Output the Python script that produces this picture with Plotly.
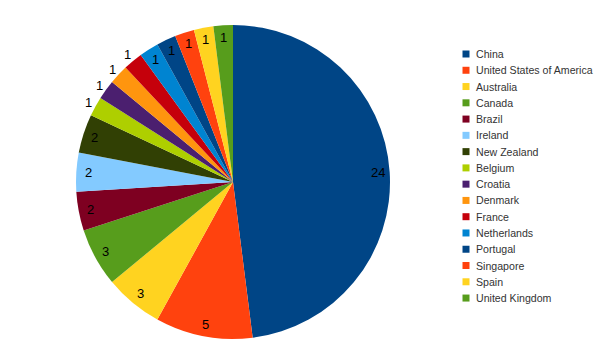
import math
import plotly.graph_objects as go

# ---- data ----
countries = ["China", "United States of America", "Australia", "Canada", "Brazil",
             "Ireland", "New Zealand", "Belgium", "Croatia", "Denmark", "France",
             "Netherlands", "Portugal", "Singapore", "Spain", "United Kingdom"]
counts = [24, 5, 3, 3, 2, 2, 2, 1, 1, 1, 1, 1, 1, 1, 1, 1]

# ---- style ----
colors = ["#004586", "#ff420e", "#ffd320", "#579d1c", "#7e0021", "#83caff",
          "#314004", "#aecf00", "#4b1f6f", "#ff950e", "#c5000b", "#0084d1",
          "#004586", "#ff420e", "#ffd320", "#579d1c"]
label_outside = [False, False, False, False, False, False, False,
                 True, True, True, True, False, False, False, False, False]

W, H = 605, 352
CX, CY, R = 233, 182, 157
FONT = "Liberation Sans, Arial, sans-serif"

fig = go.Figure()
fig.add_trace(go.Pie(
    labels=countries, values=counts, sort=False, direction="clockwise", rotation=0,
    marker=dict(colors=colors, line=dict(width=0)),
    textinfo="none", hoverinfo="label+value", showlegend=False,
    domain=dict(x=[(CX - R) / W, (CX + R) / W], y=[1 - (CY + R) / H, 1 - (CY - R) / H]),
))

annotations = []
total = sum(counts)
cum = 0
for i, v in enumerate(counts):
    mid = (cum + v / 2) / total * 2 * math.pi
    cum += v
    r = R * (1.05 if label_outside[i] else 0.925)
    px = CX + r * math.sin(mid)
    py = CY - r * math.cos(mid)
    annotations.append(dict(x=px / W, y=1 - py / H, xref="paper", yref="paper",
                            text=str(v), showarrow=False, xanchor="center", yanchor="middle",
                            font=dict(family=FONT, size=13, color="#000000")))

# legend
shapes = []
LX, LY0, LDY, SQ = 462.5, 54, 16.27, 7
for i, name in enumerate(countries):
    y = LY0 + i * LDY
    shapes.append(dict(type="rect", xref="paper", yref="paper",
                       x0=LX / W, x1=(LX + SQ) / W,
                       y0=1 - (y + SQ / 2) / H, y1=1 - (y - SQ / 2) / H,
                       fillcolor=colors[i], line=dict(width=0)))
    annotations.append(dict(x=473.5 / W, y=1 - y / H, xref="paper", yref="paper",
                            text=name, showarrow=False, xanchor="left", yanchor="middle",
                            font=dict(family=FONT, size=10.6, color="#333333")))

fig.update_layout(width=W, height=H, margin=dict(l=0, r=0, t=0, b=0),
                  paper_bgcolor="white", plot_bgcolor="white",
                  annotations=annotations, shapes=shapes, showlegend=False)
fig.write_html("out.html")
